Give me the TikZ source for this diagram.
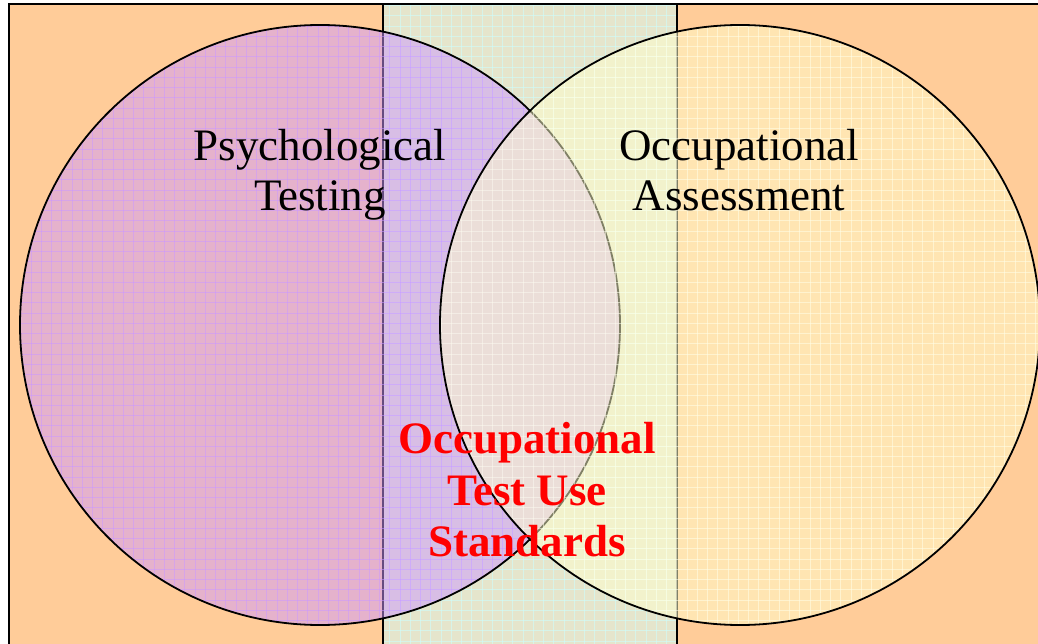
\documentclass[tikz,border=0pt]{standalone}
\usepackage{fontspec}
\setmainfont{Liberation Serif}

\definecolor{peach}{HTML}{FFCC99}
\definecolor{aqua}{HTML}{CCFFFF}
\definecolor{lilac}{HTML}{CC99FF}
\definecolor{cream}{HTML}{FFFFCC}
\definecolor{paleline}{HTML}{FFFFE8}
\definecolor{labelred}{HTML}{FF0000}

% fine grid texture laid over a filled region (clip it first)
\newcommand\meshlines[1]{%
  \draw[#1] foreach \k in {0,...,101} {({10.45+10.25*\k},0) -- ({10.45+10.25*\k},650)};
  \draw[#1] foreach \k in {0,...,63} {(0,{5.45+10.25*\k}) -- (1040,{5.45+10.25*\k})};
}

\begin{document}
\begin{tikzpicture}[x=1pt,y=-1pt,
  edge/.style={draw=black,line width=1.8pt},
  tint/.style={fill opacity=0.5},
  mesh/.style={line width=0.8pt,opacity=0.55},
  plainlabel/.style={font=\fontsize{45}{50}\selectfont,align=center,anchor=base,text=black,inner sep=0pt},
  boldlabel/.style={font=\fontsize{45}{51.7}\selectfont\bfseries,align=center,anchor=base,text=labelred,inner sep=0pt}]

\useasboundingbox (0,0) rectangle (1038,644);
\fill[white] (0,0) rectangle (1038,644);

% peach panel
\fill[peach] (9,4) rectangle (1045,650);

% central band
\fill[aqua,tint] (383,4) rectangle (677,650);
\begin{scope}
  \clip (383,4) rectangle (677,650);
  \meshlines{aqua,mesh}
\end{scope}
\draw[edge] (383,650) -- (383,4);
\draw[edge] (677,4) -- (677,650);

% panel frame (left and top edges)
\draw[line width=2.2pt] (9,650) -- (9,4) -- (1045,4);

% left circle
\coordinate (pc) at (320,325);
\fill[lilac,tint] (pc) circle (300);
\begin{scope}
  \clip (pc) circle (300);
  \meshlines{lilac,mesh}
\end{scope}
\draw[edge] (pc) circle (300);

% right circle
\coordinate (oc) at (740,325);
\fill[cream,tint] (oc) circle (300);
\begin{scope}
  \clip (oc) circle (300);
  \meshlines{paleline,mesh}
\end{scope}
\draw[edge] (oc) circle (300);

% labels (anchored at the baseline of the last line)
\node[plainlabel] (psych) at (320,210.7) {Psychological\\Testing};
\node[plainlabel] (occ) at (739,210.7) {Occupational\\Assessment};
\node[boldlabel] (standards) at (527,556.7) {Occupational\\Test Use\\Standards};

\end{tikzpicture}
\end{document}
